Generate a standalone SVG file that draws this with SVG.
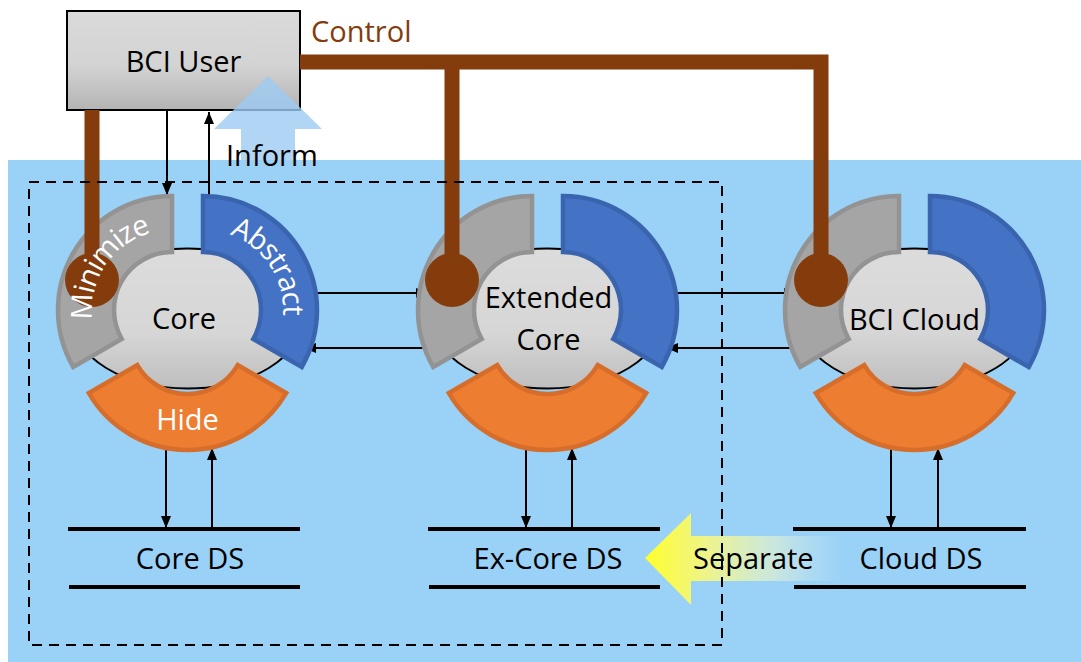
<svg xmlns="http://www.w3.org/2000/svg" xmlns:xlink="http://www.w3.org/1999/xlink" width="1081" height="662" viewBox="0 0 1081 662">
<style>
text{font-family:"Open Sans","Noto Sans","Liberation Sans",sans-serif;font-size:29px;fill:#000}
.w{fill:#fff}
.arc{font-size:29px;letter-spacing:-1.2px}
.thin{stroke:#000;stroke-width:2;fill:none}
.ds{stroke:#000;stroke-width:4}
.brown{stroke:#843C0C;stroke-width:15;fill:none}
.seg-g{fill:#A5A5A5;stroke:#939393;stroke-width:4.5}
.seg-b{fill:#4472C4;stroke:#3A64AE;stroke-width:4.5}
.seg-o{fill:#ED7D31;stroke:#D66D2A;stroke-width:4.5}
.ell{fill:url(#gEll);stroke:#000;stroke-width:2}
</style>
<defs>
<linearGradient id="gEll" x1="0" y1="0" x2="0" y2="1"><stop offset="0" stop-color="#DCDCDC"/><stop offset="0.6" stop-color="#D6D6D6"/><stop offset="1" stop-color="#BEBEBE"/></linearGradient>
<linearGradient id="gBox" x1="0" y1="0" x2="0" y2="1"><stop offset="0" stop-color="#DADADA"/><stop offset="0.55" stop-color="#D3D3D3"/><stop offset="1" stop-color="#B4B4B4"/></linearGradient>
<linearGradient id="gSep" gradientUnits="userSpaceOnUse" x1="645" y1="0" x2="845" y2="0"><stop offset="0" stop-color="#FFFF2A" stop-opacity="1"/><stop offset="0.3" stop-color="#F8F87A" stop-opacity="0.9"/><stop offset="0.65" stop-color="#F0F8C8" stop-opacity="0.55"/><stop offset="1" stop-color="#DDF0FA" stop-opacity="0"/></linearGradient>
<marker id="ah" viewBox="0 0 12 10" refX="12" refY="5" markerWidth="12" markerHeight="10" markerUnits="userSpaceOnUse" orient="auto"><path d="M0,0 L12,5 L0,10 z" fill="#000"/></marker>
<path id="arcMin" d="M102.72,350 A80,80 0 0 1 172,230"/>
<path id="arcAbs" d="M203,230 A80,80 0 0 1 272.28,350"/>
</defs>

<rect x="0" y="0" width="1081" height="662" fill="#fff"/>
<rect id="background" x="8" y="160" width="1073" height="502" fill="#99D1F7"/>

<g id="connectors">
<path class="thin" d="M167,111 V195" marker-end="url(#ah)"/>
<path class="thin" d="M209,198 V112" marker-end="url(#ah)"/>
<path class="thin" d="M312,293 H428" marker-end="url(#ah)"/>
<path class="thin" d="M430,348 H304" marker-end="url(#ah)"/>
<path class="thin" d="M672,293 H796" marker-end="url(#ah)"/>
<path class="thin" d="M792,348 H666" marker-end="url(#ah)"/>
<path class="thin" d="M166,447 V528" marker-end="url(#ah)"/>
<path class="thin" d="M212,528 V448" marker-end="url(#ah)"/>
<path class="thin" d="M526,447 V528" marker-end="url(#ah)"/>
<path class="thin" d="M572,528 V448" marker-end="url(#ah)"/>
<path class="thin" d="M891,447 V528" marker-end="url(#ah)"/>
<path class="thin" d="M938,528 V448" marker-end="url(#ah)"/>
</g>

<g id="bci-user">
<rect x="67" y="11" width="233" height="99" fill="url(#gBox)" stroke="#000" stroke-width="2"/>
<text x="183.5" y="72" text-anchor="middle">BCI User</text>
</g>

<g id="inform-arrow">
<polygon points="268,76 322,129 295,129 295,160 241,160 241,129 214,129" fill="#9CCBF2" fill-opacity="0.8"/>
<text x="226" y="166">Inform</text>
</g>

<g id="core">
<ellipse class="ell" cx="187.5" cy="318.5" rx="115" ry="70"/>
<path class="seg-g" d="M73.27,367 A114,114 0 0 1 172,196 L172,252 A58,58 0 0 0 121.77,339 Z"/>
<path class="seg-b" d="M203,196 A114,114 0 0 1 301.73,367 L253.23,339 A58,58 0 0 0 203,252 Z"/>
<path class="seg-o" d="M286.23,393 A114,114 0 0 1 88.77,393 L137.27,365 A58,58 0 0 0 237.73,365 Z"/>
<text x="184" y="329" text-anchor="middle">Core</text>
<text class="w" x="187.5" y="430" text-anchor="middle">Hide</text>
</g>

<g id="extended-core" transform="translate(360,0)">
<ellipse class="ell" cx="187.5" cy="318.5" rx="115" ry="70"/>
<path class="seg-g" d="M73.27,367 A114,114 0 0 1 172,196 L172,252 A58,58 0 0 0 121.77,339 Z"/>
<path class="seg-b" d="M203,196 A114,114 0 0 1 301.73,367 L253.23,339 A58,58 0 0 0 203,252 Z"/>
<path class="seg-o" d="M286.23,393 A114,114 0 0 1 88.77,393 L137.27,365 A58,58 0 0 0 237.73,365 Z"/>
<text x="188.5" y="308" text-anchor="middle">Extended</text>
<text x="188.5" y="350" text-anchor="middle">Core</text>
</g>

<g id="bci-cloud" transform="translate(727,0)">
<ellipse class="ell" cx="187.5" cy="318.5" rx="115" ry="70"/>
<path class="seg-g" d="M73.27,367 A114,114 0 0 1 172,196 L172,252 A58,58 0 0 0 121.77,339 Z"/>
<path class="seg-b" d="M203,196 A114,114 0 0 1 301.73,367 L253.23,339 A58,58 0 0 0 203,252 Z"/>
<path class="seg-o" d="M286.23,393 A114,114 0 0 1 88.77,393 L137.27,365 A58,58 0 0 0 237.73,365 Z"/>
<text x="187.5" y="330" text-anchor="middle">BCI Cloud</text>
</g>

<g id="control">
<path class="brown" d="M92,110 V280"/>
<path class="brown" d="M300,62 H821 V280" stroke-linejoin="miter"/>
<path class="brown" d="M452,55 V280"/>
<circle cx="92" cy="280" r="27" fill="#843C0C"/>
<circle cx="452" cy="280" r="27" fill="#843C0C"/>
<circle cx="821" cy="280" r="27" fill="#843C0C"/>
<text x="311" y="42" style="fill:#843C0C">Control</text>
</g>

<g id="core-segment-labels">
<text class="w arc"><textPath href="#arcMin" xlink:href="#arcMin" startOffset="53%" text-anchor="middle">Minimize</textPath></text>
<text class="w arc"><textPath href="#arcAbs" xlink:href="#arcAbs" startOffset="47%" text-anchor="middle">Abstract</textPath></text>
</g>

<g id="core-ds">
<line class="ds" x1="68" y1="529" x2="300" y2="529"/>
<line class="ds" x1="69" y1="587" x2="300" y2="587"/>
<text x="190" y="569" text-anchor="middle">Core DS</text>
</g>

<g id="ex-core-ds">
<line class="ds" x1="428" y1="529" x2="660" y2="529"/>
<line class="ds" x1="429" y1="587" x2="660" y2="587"/>
<text x="548" y="569" text-anchor="middle">Ex-Core DS</text>
</g>

<g id="cloud-ds">
<line class="ds" x1="793" y1="529" x2="1026" y2="529"/>
<line class="ds" x1="794" y1="587" x2="1026" y2="587"/>
<text x="921" y="569" text-anchor="middle">Cloud DS</text>
</g>

<g id="separate-arrow">
<polygon points="645,558 691,513 691,536 845,536 845,581 691,581 691,605" fill="url(#gSep)"/>
<text x="693" y="569">Separate</text>
</g>

<rect id="boundary" x="29" y="182" width="693" height="463" fill="none" stroke="#000" stroke-width="2" stroke-dasharray="10,7"/>
</svg>
